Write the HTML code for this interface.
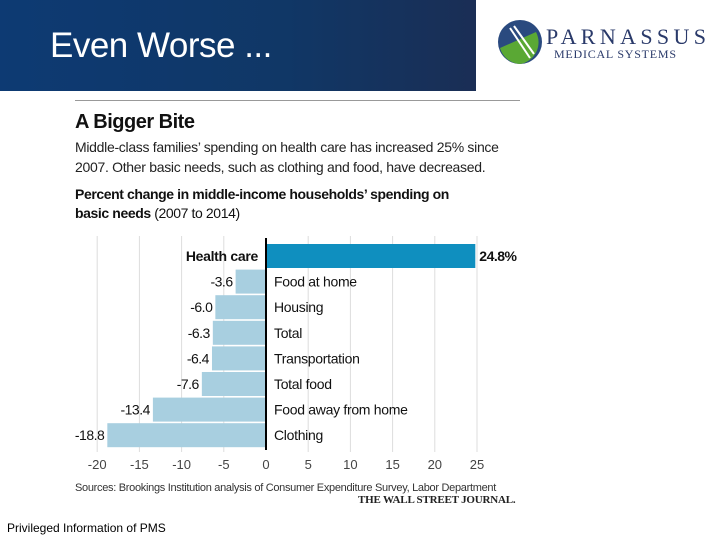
<!DOCTYPE html>
<html><head><meta charset="utf-8"><style>
body{margin:0;width:720px;height:540px;background:#fff;font-family:"Liberation Sans",sans-serif;position:relative;overflow:hidden}
.a{position:absolute;white-space:nowrap}
</style></head><body>
<div class="a" style="left:0;top:0;width:476px;height:91px;background:linear-gradient(90deg,#0d3a73,#103766 60%,#1a2e55);"></div>
<div class="a" style="left:50px;top:26px;font-size:35px;color:#fff;letter-spacing:-0.5px">Even Worse ...</div>
<svg class="a" style="left:496px;top:18px" width="215" height="48">
<circle cx="24" cy="24" r="22" fill="#2a4a7f"/><path d="M24 46 A22 22 0 0 1 4 30 L40 14 A22 22 0 0 1 24 46Z" fill="#5aa834"/>
<path d="M14 10 L34 40 M18 8 L38 36" stroke="#fff" stroke-width="2"/>
<text x="50" y="26" font-family="Liberation Serif,serif" font-size="22" fill="#2a3a6a" textLength="160">PARNASSUS</text>
<text x="58" y="40" font-family="Liberation Serif,serif" font-size="12" fill="#2a3a6a" textLength="122">MEDICAL SYSTEMS</text></svg>
<div class="a" style="left:75px;top:100px;width:445px;height:1px;background:#999"></div>
<div class="a" style="left:75px;top:111px;font-size:20px;font-weight:bold;color:#111;letter-spacing:-0.5px">A Bigger Bite</div>
<div class="a" style="left:75px;top:137px;font-size:14px;line-height:20px;color:#222;letter-spacing:-0.3px">Middle-class families’ spending on health care has increased 25% since<br>2007. Other basic needs, such as clothing and food, have decreased.</div>
<div class="a" style="left:75px;top:185px;font-size:14px;line-height:19px;color:#111;letter-spacing:-0.4px"><b>Percent change in middle-income households’ spending on<br>basic needs</b> (2007 to 2014)</div>
<svg class="a" id="chart" style="left:0;top:0" width="720" height="540"></svg>
<div class="a" style="left:75px;top:482px;font-size:11px;color:#333;letter-spacing:-0.3px">Sources: Brookings Institution analysis of Consumer Expenditure Survey, Labor Department</div>
<div class="a" style="left:358px;top:494px;font-size:11px;font-weight:bold;font-family:'Liberation Serif',serif;color:#222;letter-spacing:-0.2px">THE WALL STREET JOURNAL.</div>
<div class="a" style="left:7px;top:521px;font-size:12px;color:#000">Privileged Information of PMS</div>
<script>
const categories=["Health care","Food at home","Housing","Total","Transportation","Total food","Food away from home","Clothing"];
const values=[24.8,-3.6,-6.0,-6.3,-6.4,-7.6,-13.4,-18.8];
const labels=["24.8%","-3.6","-6.0","-6.3","-6.4","-7.6","-13.4","-18.8"];
const ticks=[-20,-15,-10,-5,0,5,10,15,20,25];
const svg=document.getElementById('chart');const NS="http://www.w3.org/2000/svg";
const x=v=>266+v*8.44;const y=i=>244+i*25.6;
function mk(t,a){const e=document.createElementNS(NS,t);for(const k in a)e.setAttribute(k,a[k]);svg.appendChild(e);return e;}
ticks.forEach(t=>{if(t!==0){const l=mk('line',{x1:x(t),x2:x(t),y1:236,y2:452,stroke:'#ddd','stroke-width':1});

}
const tx=mk('text',{x:x(t),y:469,'text-anchor':'middle','font-size':13,fill:'#444','font-family':'Liberation Sans,sans-serif'});tx.textContent=t;

});
values.forEach((v,i)=>{const r=mk('rect',{x:Math.min(x(0),x(v)),y:y(i),width:Math.abs(x(v)-x(0)),height:24,fill:i===0?'#0f8fbf':'#a8cfe0'});


const c=mk('text',{x:i===0?x(0)-8:x(0)+8,y:y(i)+17,'text-anchor':i===0?'end':'start','font-size':14,fill:'#111','font-weight':i===0?'bold':'normal','font-family':'Liberation Sans,sans-serif','letter-spacing':'-0.3'});c.textContent=categories[i];


const vl=mk('text',{x:v>0?x(v)+4:x(v)-3,y:y(i)+17,'text-anchor':v>0?'start':'end','font-size':14,fill:'#111','font-weight':v>0?'bold':'normal','font-family':'Liberation Sans,sans-serif','letter-spacing':'-0.5'});vl.textContent=labels[i];

});
const z=mk('line',{x1:x(0),x2:x(0),y1:238,y2:450,stroke:'#000','stroke-width':2});


</script>
</body></html>
